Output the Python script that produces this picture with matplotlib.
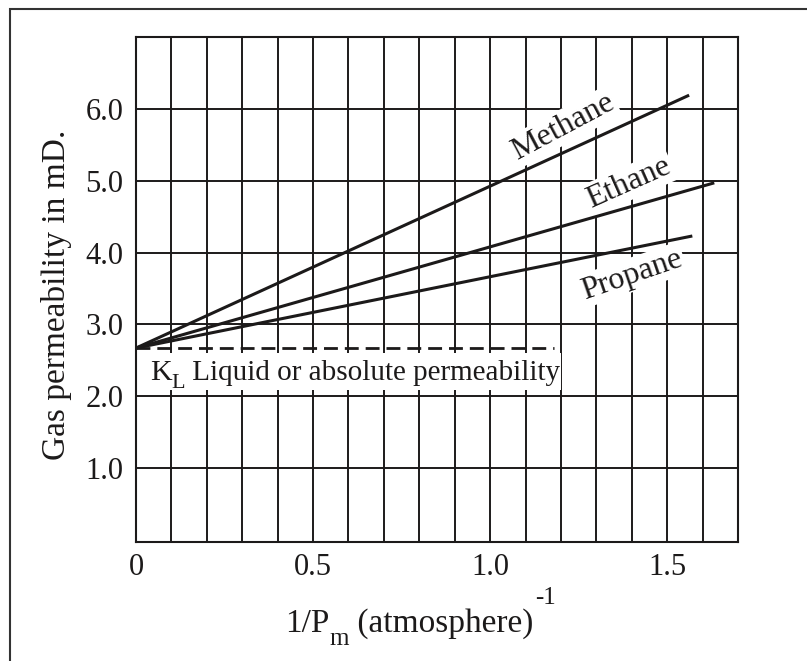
import numpy as np
import matplotlib
matplotlib.use("Agg")
import matplotlib.pyplot as plt
from matplotlib.patches import Rectangle
from matplotlib.transforms import IdentityTransform

plt.rcParams["font.family"] = ["Liberation Serif", "DejaVu Serif"]

# values: straight lines from K_L out to the last point
gases = ["Methane", "Ethane", "Propane"]
x_start = [0.0, 0.0, 0.0]
y_start = [2.67, 2.67, 2.67]
x_end = [1.562, 1.633, 1.571]
y_end = [6.19, 4.97, 4.23]
k_liquid = 2.67
k_liquid_xmax = 1.18
xticks = [0.0, 0.5, 1.0, 1.5]
xticklabels = ["0", "0.5", "1.0", "1.5"]
yticks = [1, 2, 3, 4, 5, 6]
yticklabels = ["1.0", "2.0", "3.0", "4.0", "5.0", "6.0"]

INK = "#1c1a1a"
W, H = 807, 661
fig = plt.figure(figsize=(W / 100, H / 100), dpi=100)
fig.add_artist(Rectangle((10 / W, -0.1), 1.2, 1 - 9 / H + 0.1, transform=fig.transFigure,
                         fill=False, lw=1.5, ec="#333333"))

ax = fig.add_axes([136 / W, 1 - 542 / H, (738 - 136) / W, (542 - 37) / H])
ax.set_xlim(0, 1.7)
ax.set_ylim(-0.03, 7.0)
ax.set_xticks(xticks)
ax.set_xticklabels(xticklabels)
ax.set_xticks(np.round(np.arange(0.1, 1.7, 0.1), 2), minor=True)
ax.set_yticks(yticks)
ax.set_yticklabels(yticklabels)
ax.tick_params(which="both", length=0, labelsize=22, colors=INK)
ax.tick_params(axis="x", pad=8)
ax.tick_params(axis="y", pad=9)
ax.set_axisbelow(True)
ax.grid(which="both", color=INK, lw=1.4)
for s in ax.spines.values():
    s.set_color(INK)
    s.set_linewidth(1.5)

for g, x0, y0, x1, y1 in zip(gases, x_start, y_start, x_end, y_end):
    ax.plot([x0, x1], [y0, y1], color=INK, lw=2.2, zorder=3, solid_capstyle="butt")
ax.plot([0, k_liquid_xmax], [k_liquid, k_liquid], color=INK, lw=2.0, dashes=(5, 2.5), zorder=3)

box = dict(facecolor="white", edgecolor="none", pad=1.5)
for name, x, y, rot in [("Methane", 1.206, 5.75, 28), ("Ethane", 1.392, 4.97, 24),
                        ("Propane", 1.40, 3.69, 19)]:
    ax.text(x, y, name, rotation=rot, ha="center", va="center", fontsize=23, color=INK,
            bbox=box, zorder=2, rotation_mode="anchor")

# white patch behind the K_L note, cutting the grid like in the original
ax.add_patch(Rectangle((0.015, 2.08), 1.185, 0.52, fc="white", ec="none", zorder=1.5))

renderer = fig.canvas.get_renderer()


def chain(x, y, pieces):
    # pieces: (text, fontsize, drop in px); placed left to right in pixel coords
    for s, size, drop in pieces:
        t = fig.text(x, H - y - drop, s, fontsize=size, color=INK, ha="left",
                     va="baseline", transform=IdentityTransform())
        x += t.get_window_extent(renderer).width


chain(150, 380, [("K", 21.5, 0), ("L", 16, 8), (" Liquid or absolute permeability", 21, 0)])
chain(285, 632, [("1/P", 24, 0), ("m", 18, 13), (" (atmosphere)", 24, 0)])
fig.text(545 / W, 1 - 598 / H, "-1", ha="center", va="center", fontsize=18, color=INK)

fig.text(56 / W, 1 - 295 / H, "Gas permeability in mD.", rotation=90, ha="center",
         va="center", fontsize=24, color=INK)

fig.savefig("out.png", dpi=100)
